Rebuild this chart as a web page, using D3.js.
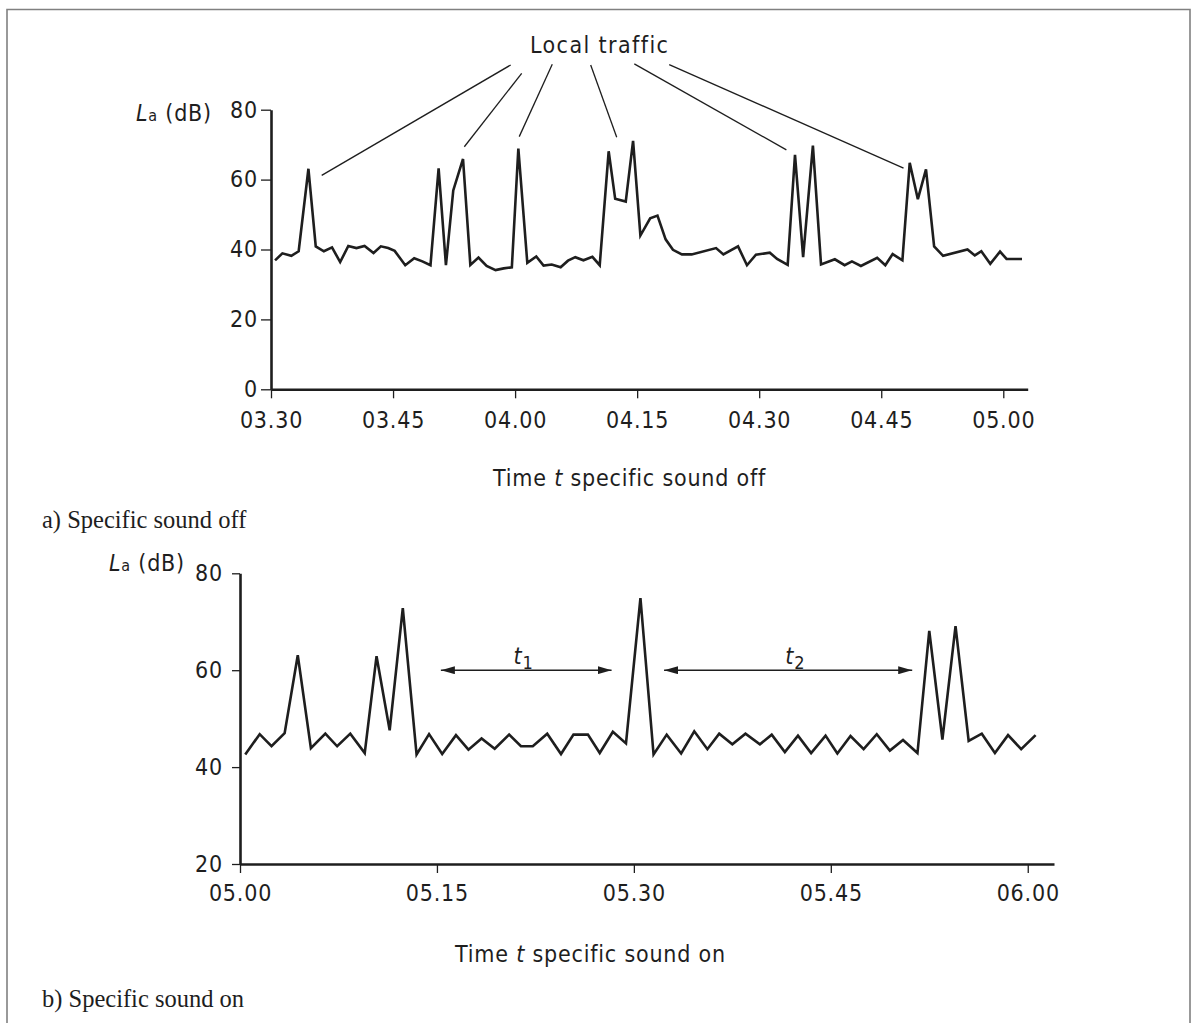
<!DOCTYPE html>
<html>
<head>
<meta charset="utf-8">
<script src="https://cdn.jsdelivr.net/npm/d3@7"></script>
<style>
  html, body { margin: 0; padding: 0; background: #fff; }
  svg { display: block; }
  .lbl { font-family: "DejaVu Sans Condensed", "DejaVu Sans", sans-serif; font-size: 23px; fill: #1e1e1e; letter-spacing: 0.8px; }
  .cap { font-family: "Liberation Serif", "DejaVu Serif", serif; font-size: 24.5px; fill: #1e1e1e; }
</style>
</head>
<body>
<svg id="chart" width="1197" height="1023"></svg>
<script>
// ---- (a) specific sound off: minutes after 03.30 and level La in dB ----
const offMinutes = [0.5, 1.4, 2.5, 3.4, 4.6, 5.5, 6.5, 7.5, 8.5, 9.5, 10.5, 11.5, 12.6, 13.5, 14.4, 15.2,
  16.5, 17.6, 18.6, 19.6, 20.6, 21.5, 22.4, 23.6, 24.5, 25.5, 26.5, 27.6, 28.6, 29.6, 30.4, 31.5,
  32.6, 33.5, 34.5, 35.6, 36.5, 37.4, 38.4, 39.5, 40.4, 41.5, 42.3, 43.6, 44.5, 45.4, 46.6, 47.5,
  48.5, 49.4, 50.5, 51.7, 54.7, 55.6, 57.4, 58.5, 59.6, 61.3, 62.2, 63.5, 64.4, 65.4, 66.6, 67.6,
  69.3, 70.5, 71.4, 72.5, 74.5, 75.5, 76.4, 77.6, 78.5, 79.5, 80.5, 81.5, 82.6, 85.6, 86.5, 87.3,
  88.4, 89.6, 90.4, 92.3];
const offLevels = [36.9, 38.9, 38.2, 39.5, 63.1, 40.9, 39.5, 40.6, 36.4, 41.0, 40.4, 41.0, 39.0, 40.9, 40.4, 39.6,
  35.5, 37.5, 36.6, 35.5, 63.2, 35.5, 56.9, 65.9, 35.6, 37.7, 35.3, 34.1, 34.6, 34.9, 68.9, 36.2,
  38.0, 35.4, 35.7, 34.9, 36.8, 37.8, 36.9, 37.9, 35.5, 68.1, 54.5, 53.7, 71.1, 44.0, 48.9, 49.7,
  42.9, 39.9, 38.6, 38.6, 40.4, 38.6, 40.9, 35.5, 38.5, 39.1, 37.3, 35.6, 67.1, 37.8, 69.7, 35.7,
  37.2, 35.5, 36.6, 35.3, 37.6, 35.5, 38.7, 36.9, 64.8, 54.4, 62.9, 40.9, 38.2, 40.0, 38.3, 39.5,
  35.9, 39.4, 37.3, 37.3];
const offTickMinutes = [0, 15, 30, 45, 60, 75, 90];
const offTickLabels = ["03.30", "03.45", "04.00", "04.15", "04.30", "04.45", "05.00"];
const offLevelTicks = [0, 20, 40, 60, 80];

// "Local traffic" leaders: label anchor and the peak each leader points at (minute, dB)
const trafficLabel = { minute: 40.4, level: 96.1, text: "Local traffic" };
const leaderFrom = [[29.46, 92.8], [30.81, 90.4], [34.57, 93.0], [39.29, 92.8], [44.65, 93.1], [48.94, 92.9]];
const leaderTo = [[6.23, 61.2], [23.76, 69.4], [30.51, 72.3], [42.49, 72.1], [63.34, 68.5], [77.74, 63.3]];

// ---- (b) specific sound on: minutes after 05.00 and level La in dB ----
const onMinutes = [0.4, 1.5, 2.4, 3.4, 4.4, 5.4, 6.5, 7.4, 8.4, 9.5, 10.4, 11.4, 12.4, 13.45, 14.4, 15.4,
  16.45, 17.4, 18.4, 19.4, 20.5, 21.4, 22.3, 23.4, 24.45, 25.4, 26.5, 27.4, 28.4, 29.4, 30.5, 31.5,
  32.5, 33.6, 34.6, 35.6, 36.5, 37.5, 38.5, 39.6, 40.5, 41.5, 42.5, 43.5, 44.6, 45.5, 46.5, 47.5,
  48.5, 49.5, 50.5, 51.6, 52.5, 53.5, 54.5, 55.5, 56.5, 57.5, 58.5, 59.5, 60.6];
const onLevels = [42.6, 46.8, 44.3, 47.0, 63.1, 43.9, 46.9, 44.3, 46.9, 42.9, 62.9, 47.6, 72.8, 42.6, 46.8, 42.7,
  46.6, 43.6, 45.9, 43.8, 46.7, 44.3, 44.3, 46.9, 42.7, 46.7, 46.7, 42.9, 47.3, 44.9, 74.9, 42.6,
  46.7, 42.8, 47.4, 43.7, 46.9, 44.7, 46.9, 44.7, 46.7, 43.1, 46.5, 42.9, 46.5, 42.8, 46.4, 43.7,
  46.8, 43.4, 45.6, 42.9, 68.1, 45.7, 69.1, 45.4, 46.9, 42.9, 46.6, 43.7, 46.6];
const onTickMinutes = [0, 15, 30, 45, 60];
const onTickLabels = ["05.00", "05.15", "05.30", "05.45", "06.00"];
const onLevelTicks = [20, 40, 60, 80];

// quiet intervals between events: [start minute, end minute, level], subscript
const intervalSpans = [[15.3, 28.3, 60], [32.3, 51.2, 60]];
const intervalNames = ["1", "2"];
const intervalLabelAt = [[21.6, 61.2], [42.3, 61.2]];

const svg = d3.select("#chart");
const ink = "#1e1e1e";

// page frame
svg.append("path")
  .attr("d", "M7,1023V9.5H1190V1023")
  .attr("fill", "none").attr("stroke", "#808080").attr("stroke-width", 1.6);

const defs = svg.append("defs");
defs.append("marker").attr("id", "arrowHead")
  .attr("viewBox", "0 0 14 8").attr("refX", 14).attr("refY", 4)
  .attr("markerWidth", 14).attr("markerHeight", 8).attr("markerUnits", "userSpaceOnUse")
  .attr("orient", "auto-start-reverse")
  .append("path").attr("d", "M0,0L14,4L0,8Z").attr("fill", ink);

function styleAxis(g) {
  g.select(".domain").attr("stroke", ink).attr("stroke-width", 2.6);
  g.selectAll(".tick line").attr("stroke", ink).attr("stroke-width", 1.3);
  g.selectAll(".tick text").attr("class", "lbl").attr("fill", ink);
}

function levelTitle(x, y) {
  const t = svg.append("text").attr("class", "lbl").attr("x", x).attr("y", y).attr("text-anchor", "end");
  t.append("tspan").attr("font-style", "italic").text("L");
  t.append("tspan").attr("font-size", "16px").text("a");
  t.append("tspan").text(" (dB)");
}

function timeTitle(x, y, rest) {
  const t = svg.append("text").attr("class", "lbl").attr("x", x).attr("y", y);
  t.append("tspan").text("Time ");
  t.append("tspan").attr("font-style", "italic").text("t");
  t.append("tspan").text(" " + rest);
}

// ================= (a) =================
const xa = d3.scaleLinear().domain([0, 93]).range([271, 1027.7]);
const ya = d3.scaleLinear().domain([0, 80]).range([389.3, 109.7]);

svg.append("g").attr("transform", `translate(0,${ya(0)})`)
  .call(d3.axisBottom(xa).tickValues(offTickMinutes).tickFormat((d, i) => offTickLabels[i])
    .tickSize(9).tickSizeOuter(0).tickPadding(13))
  .call(styleAxis);
svg.append("g").attr("transform", `translate(${xa(0)},0)`)
  .call(d3.axisLeft(ya).tickValues(offLevelTicks).tickSize(10).tickSizeOuter(0).tickPadding(3))
  .call(styleAxis);

svg.append("path")
  .attr("d", d3.line().x((d, i) => xa(offMinutes[i])).y(d => ya(d))(offLevels))
  .attr("fill", "none").attr("stroke", ink).attr("stroke-width", 2.6).attr("stroke-linejoin", "miter");

svg.append("text").attr("class", "lbl").attr("text-anchor", "middle").style("letter-spacing", "1.4px")
  .attr("x", xa(trafficLabel.minute)).attr("y", ya(trafficLabel.level)).text(trafficLabel.text);
svg.append("g").selectAll("line").data(leaderFrom).join("line")
  .attr("x1", d => xa(d[0])).attr("y1", d => ya(d[1]))
  .attr("x2", (d, i) => xa(leaderTo[i][0])).attr("y2", (d, i) => ya(leaderTo[i][1]))
  .attr("stroke", ink).attr("stroke-width", 1.3);

levelTitle(xa(0) - 59, ya(80) + 11);
timeTitle(493, 486, "specific sound off");
svg.append("text").attr("class", "cap").attr("x", 42).attr("y", 528).text("a) Specific sound off");

// ================= (b) =================
const xb = d3.scaleLinear().domain([0, 62]).range([240, 1054]);
const yb = d3.scaleLinear().domain([20, 80]).range([864, 573.3]);

svg.append("g").attr("transform", `translate(0,${yb(20)})`)
  .call(d3.axisBottom(xb).tickValues(onTickMinutes).tickFormat((d, i) => onTickLabels[i])
    .tickSize(9).tickSizeOuter(0).tickPadding(12))
  .call(styleAxis);
svg.append("g").attr("transform", `translate(${xb(0)},0)`)
  .call(d3.axisLeft(yb).tickValues(onLevelTicks).tickSize(8).tickSizeOuter(0).tickPadding(9))
  .call(styleAxis);

svg.append("path")
  .attr("d", d3.line().x((d, i) => xb(onMinutes[i])).y(d => yb(d))(onLevels))
  .attr("fill", "none").attr("stroke", ink).attr("stroke-width", 2.6).attr("stroke-linejoin", "miter");

svg.append("g").selectAll("line").data(intervalSpans).join("line")
  .attr("x1", d => xb(d[0])).attr("x2", d => xb(d[1]))
  .attr("y1", d => yb(d[2])).attr("y2", d => yb(d[2]))
  .attr("stroke", ink).attr("stroke-width", 1.5)
  .attr("marker-start", "url(#arrowHead)").attr("marker-end", "url(#arrowHead)");

intervalLabelAt.forEach((p, i) => {
  const t = svg.append("text").attr("class", "lbl").attr("text-anchor", "middle")
    .attr("x", xb(p[0])).attr("y", yb(p[1]));
  t.append("tspan").attr("font-style", "italic").text("t");
  t.append("tspan").attr("font-size", "18px").attr("dy", 5).text(intervalNames[i]);
});

levelTitle(xb(0) - 55, yb(80) - 2);
timeTitle(455, 962, "specific sound on");
svg.append("text").attr("class", "cap").attr("x", 42).attr("y", 1007).text("b) Specific sound on");
</script>
</body>
</html>
